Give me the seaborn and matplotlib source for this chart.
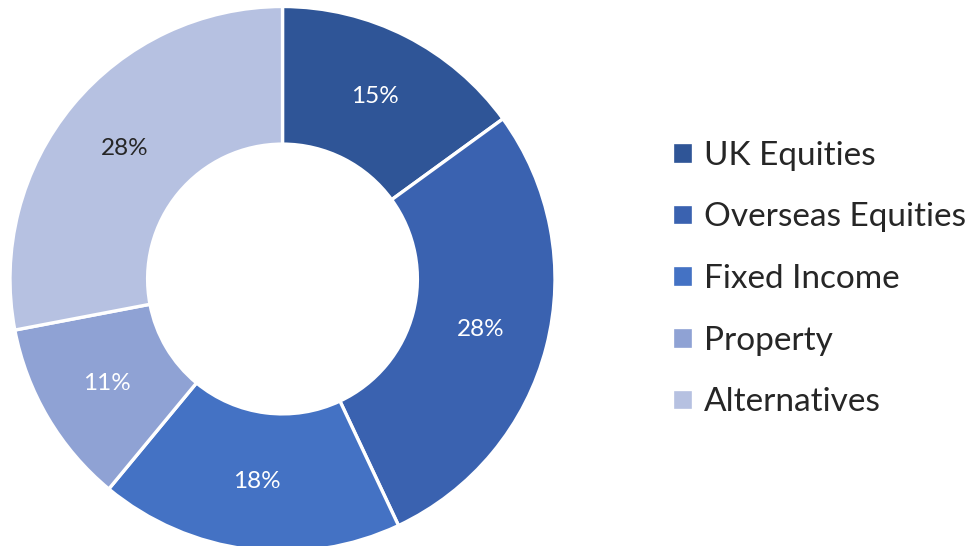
import matplotlib
matplotlib.use('Agg')
import matplotlib.pyplot as plt
import seaborn as sns

# ---------------------------------------------------------
# data
# ---------------------------------------------------------
categories = ['UK Equities', 'Overseas Equities', 'Fixed Income', 'Property', 'Alternatives']
shares = [15, 28, 18, 11, 28]
colours = ['#2F5597', '#3A62B0', '#4472C4', '#8FA2D4', '#B6C1E1']
label_colours = ['white', 'white', 'white', 'white', '#262626']

sns.set_theme(style='white')
plt.rcParams['font.family'] = ['Lato', 'DejaVu Sans']

fig = plt.figure(figsize=(9.73, 5.46), dpi=100)
# donut axes: centre ~ (283, 279) px, radius ~272 px
r_px = 272.5
cx, cy = 282.5, 546 - 279
ax = fig.add_axes([(cx - r_px) / 973, (cy - r_px) / 546, 2 * r_px / 973, 2 * r_px / 546])

wedges, texts, autotexts = ax.pie(
    shares, colors=colours, startangle=90, counterclock=False,
    autopct='%1.0f%%', pctdistance=0.75,
    wedgeprops=dict(width=0.505, edgecolor='white', linewidth=2.4),
    textprops=dict(fontsize=17.5))
for t, c in zip(autotexts, label_colours):
    t.set_color(c)
ax.set_xlim(-1, 1)
ax.set_ylim(-1, 1)
ax.set_aspect('equal')
ax.axis('off')

fig.legend(wedges, categories, loc='center left',
           bbox_to_anchor=(672 / 973, 1 - 279 / 546),
           frameon=False, fontsize=24, handlelength=0.62, handleheight=0.62,
           handletextpad=0.34, labelspacing=0.95,
           borderaxespad=0, borderpad=0)

fig.savefig('out.png', dpi=100)
